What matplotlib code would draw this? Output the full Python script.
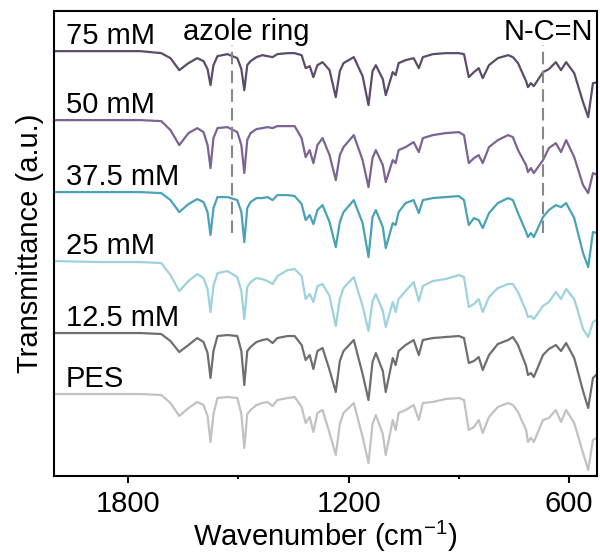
import numpy as np
import matplotlib
matplotlib.use('Agg')
import matplotlib.pyplot as plt

plt.rcParams['font.family'] = ['Liberation Sans', 'DejaVu Sans']
plt.rcParams['mathtext.default'] = 'regular'

# wavenumber grid (cm-1)
wavenumber = [2000, 1876, 1767, 1710, 1685, 1661, 1636, 1612, 1595, 1584,
              1576, 1568, 1557, 1530, 1503, 1492, 1484, 1476, 1467, 1451,
              1435, 1421, 1407, 1394, 1366, 1347, 1328, 1317, 1306, 1296,
              1285, 1271, 1252, 1235, 1224, 1214, 1186, 1162, 1146, 1135,
              1126, 1107, 1099, 1080, 1072, 1064, 1045, 1023, 1009, 998,
              971, 936, 900, 886, 873, 859, 846, 835, 818, 794,
              766, 753, 739, 717, 712, 704, 696, 671, 655, 636,
              622, 608, 586, 562, 548, 535, 521]

# relative transmittance of each sample (a.u., 0 = flat baseline)
t_75 = [0, 0, 0, -2, -7, -19, -12, -7, -10, -18,
        -34, -14, -5, -3, -7, -18, -39, -14, -10, -6,
        -4, -5, -6, -3, -2, -2, -4, -17, -15, -26,
        -14, -11, -19, -46, -20, -12, -6, -25, -54, -20,
        -14, -28, -44, -21, -24, -12, -9, -7, -17, -6,
        -3, -2, -2, -3, -26, -21, -17, -27, -14, -7,
        -4, -6, -12, -30, -36, -32, -35, -21, -18, -11,
        -19, -11, -22, -51, -66, -32, -31]
t_50 = [0, 0, 0, -1, -10, -25, -13, -8, -12, -25,
        -48, -18, -8, -7, -12, -25, -53, -20, -13, -9,
        -8, -7, -8, -6, -6, -6, -18, -37, -30, -43,
        -25, -18, -35, -60, -35, -27, -15, -40, -67, -38,
        -30, -45, -62, -40, -43, -30, -27, -22, -32, -18,
        -15, -13, -12, -15, -43, -38, -35, -43, -27, -20,
        -15, -17, -30, -45, -52, -48, -53, -40, -28, -23,
        -32, -20, -37, -65, -73, -53, -55]
t_375 = [0, 0, 0, -1, -8, -20, -12, -7, -10, -20,
         -43, -16, -5, -5, -8, -20, -50, -16, -10, -6,
         -6, -5, -8, -3, -3, -4, -12, -28, -23, -32,
         -18, -13, -30, -55, -30, -20, -8, -31, -65, -25,
         -18, -35, -56, -31, -33, -20, -11, -8, -21, -8,
         -6, -5, -4, -8, -33, -26, -28, -36, -21, -11,
         -6, -8, -21, -40, -45, -41, -45, -25, -18, -13,
         -15, -11, -26, -61, -75, -40, -41]
t_25 = [0, -1, -1, -2, -14, -30, -20, -13, -17, -28,
        -51, -25, -12, -10, -16, -30, -58, -26, -21, -17,
        -18, -20, -23, -15, -9, -8, -15, -38, -33, -41,
        -25, -23, -35, -65, -38, -27, -16, -45, -70, -40,
        -33, -50, -66, -41, -51, -38, -30, -21, -40, -25,
        -20, -18, -14, -16, -46, -43, -38, -51, -36, -27,
        -23, -23, -31, -50, -56, -55, -58, -45, -41, -31,
        -38, -28, -38, -68, -76, -61, -58]
t_125 = [0, 0, 0, -1, -8, -19, -12, -5, -9, -20,
         -45, -18, -3, -2, -3, -18, -52, -18, -14, -9,
         -7, -6, -10, -5, -3, -3, -12, -27, -22, -36,
         -18, -15, -37, -59, -28, -18, -7, -41, -67, -29,
         -20, -38, -59, -25, -32, -18, -12, -7, -22, -7,
         -5, -4, -3, -5, -30, -28, -24, -37, -22, -11,
         -7, -4, -12, -33, -42, -40, -44, -22, -16, -12,
         -18, -10, -25, -58, -75, -45, -40]
t_pes = [0, 0, 0, -1, -9, -22, -14, -8, -11, -22,
         -48, -20, -4, -3, -4, -20, -54, -20, -16, -11,
         -9, -8, -12, -6, -4, -3, -13, -29, -23, -38,
         -19, -16, -39, -61, -30, -19, -9, -43, -69, -30,
         -21, -40, -61, -26, -36, -19, -16, -11, -26, -9,
         -8, -5, -4, -6, -36, -33, -26, -39, -23, -13,
         -9, -11, -18, -36, -48, -44, -48, -26, -24, -16,
         -28, -16, -29, -59, -76, -46, -43]

labels = ['75 mM', '50 mM', '37.5 mM', '25 mM', '12.5 mM', 'PES']
spectra = [t_75, t_50, t_375, t_25, t_125, t_pes]
offsets = [343, 274, 202, 133, 61, 0]
colors = ['#5d4a6c', '#7d6393', '#4aa2b8', '#9fd2df', '#6f6f6f', '#c2c2c2']

band_wn = [1517, 672]
band_labels = ['azole ring', 'N-C=N']

fig = plt.figure(figsize=(6, 5.58), dpi=100)
ax = fig.add_axes([0.09, 0.147, 0.905, 0.833])

for lab, t, off, c in zip(labels, spectra, offsets, colors):
    ax.plot(wavenumber, np.array(t) + off, color=c, lw=1.6,
            solid_joinstyle='round', solid_capstyle='round')
    ax.text(1969, off + 15, lab, fontsize=21, ha='left', va='center')

for wn in band_wn:
    ax.axvline(wn, ymin=0.523, ymax=0.927, color='#888888', lw=1.5,
               dashes=(6, 3), zorder=3)
ax.text(1479, 362, band_labels[0], fontsize=21, ha='center', va='center')
ax.text(656, 362, band_labels[1], fontsize=21, ha='center', va='center')

ax.set_xlim(2002, 524)
ax.set_ylim(-82, 383)
ax.set_xticks([1800, 1200, 600])
ax.set_xticks([1500, 900], minor=True)
ax.set_yticks([])
ax.tick_params(axis='x', which='major', direction='out', length=5, width=1.5,
               labelsize=21, pad=5)
ax.tick_params(axis='x', which='minor', direction='out', length=2.5, width=1.5)
for s in ax.spines.values():
    s.set_linewidth(1.5)

ax.set_xlabel('Wavenumber (cm$^{-1}$)', fontsize=21, labelpad=1)
ax.set_ylabel('Transmittance (a.u.)', fontsize=21, labelpad=7)

fig.savefig('out.png', dpi=100)
